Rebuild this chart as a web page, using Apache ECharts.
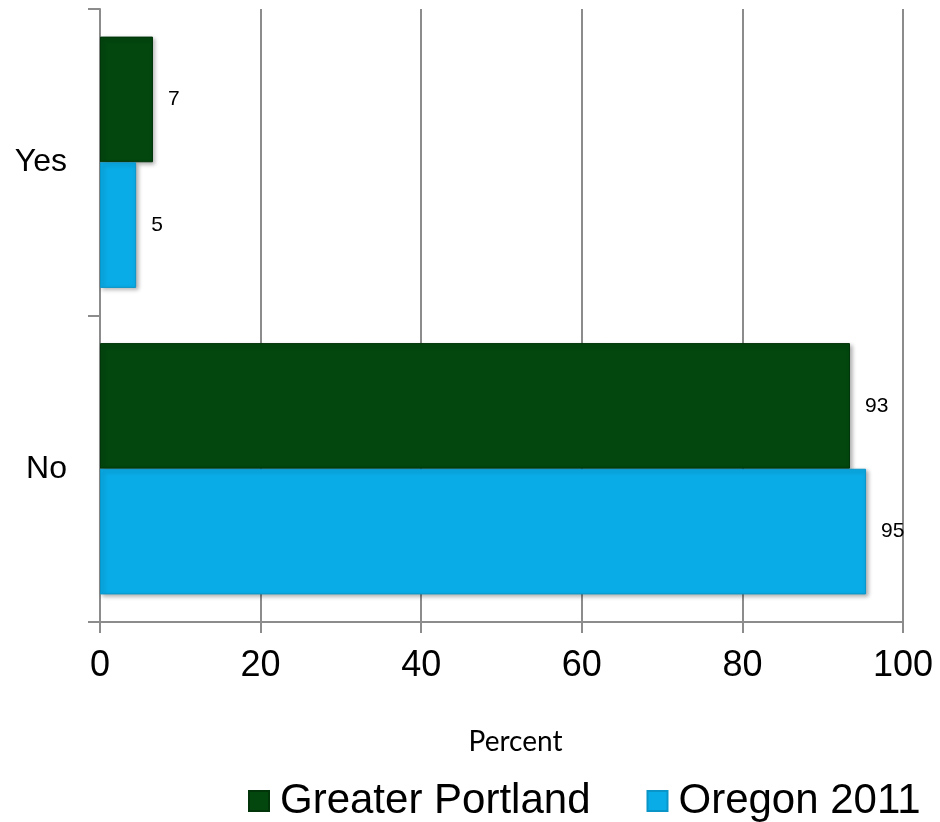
<!DOCTYPE html>
<html>
<head>
<meta charset="utf-8">
<title>Greater Portland vs Oregon 2011</title>
<script src="https://cdn.jsdelivr.net/npm/echarts@6/dist/echarts.min.js"></script>
<style>
    html, body { margin: 0; padding: 0; background: #fff; }
    #chart { width: 940px; height: 822px; }
</style>
</head>
<body>
<div id="chart"></div>
<script>
// Categories, top to bottom
const categories = ['Yes', 'No'];

// Percent values
const greaterPortland = [6.6, 93.4];
const oregon2011 = [4.5, 95.4];

const xTicks = [0, 20, 40, 60, 80, 100];

const GREEN = '#03460e';
const BLUE = '#0aace7';
const FONT = '"Liberation Sans", Arial, sans-serif';

const chart = echarts.init(document.getElementById('chart'));

// Shared label style for the value labels at the bar ends
const valueLabel = {
    show: true,
    position: 'right',
    distance: 15,
    color: '#000',
    fontFamily: FONT,
    fontSize: 21,
    formatter: (p) => Math.round(p.value),
};

chart.setOption({
    animation: false,
    backgroundColor: '#fff',
    grid: { left: 100, right: 37, top: 9, bottom: 200 },
    legend: {
        left: 243,
        top: 775,
        itemWidth: 20,
        itemHeight: 20,
        itemGap: 56,
        icon: 'rect',
        textStyle: { fontFamily: FONT, fontSize: 42, color: '#000', padding: [0, 0, 0, 6] },
        data: ['Greater Portland', 'Oregon 2011'],
    },
    xAxis: {
        type: 'value',
        min: xTicks[0],
        max: xTicks[xTicks.length - 1],
        interval: 20,
        name: 'Percent',
        nameLocation: 'middle',
        nameGap: 106,
        nameTextStyle: {
            fontFamily: 'Lato, "Open Sans", sans-serif',
            fontSize: 28,
            color: '#000',
            padding: [0, 0, 0, 28],
        },
        axisLine: { show: true, lineStyle: { color: '#8c8c8c', width: 2 } },
        axisTick: { show: true, length: 11, lineStyle: { color: '#8c8c8c', width: 2 } },
        axisLabel: { fontFamily: FONT, fontSize: 36, color: '#000', margin: 26 },
        splitLine: { show: true, lineStyle: { color: '#8c8c8c', width: 2 } },
    },
    yAxis: {
        type: 'category',
        data: categories,
        inverse: true,
        axisLine: { show: true, lineStyle: { color: '#8c8c8c', width: 2 } },
        axisTick: { show: true, length: 12, lineStyle: { color: '#8c8c8c', width: 2 } },
        axisLabel: { fontFamily: FONT, fontSize: 32, color: '#000', margin: 33 },
    },
    series: [
        {
            name: 'Greater Portland',
            type: 'bar',
            data: greaterPortland,
            barGap: '0%',
            barCategoryGap: '18%',
            itemStyle: {
                color: GREEN,
                borderColor: '#02350a',
                borderWidth: 1,
                shadowColor: 'rgba(0,0,0,0.3)',
                shadowBlur: 4,
                shadowOffsetX: 2,
                shadowOffsetY: 2,
            },
            label: valueLabel,
        },
        {
            name: 'Oregon 2011',
            type: 'bar',
            data: oregon2011,
            barGap: '0%',
            barCategoryGap: '18%',
            itemStyle: {
                color: BLUE,
                borderColor: '#0a95c9',
                borderWidth: 1,
                shadowColor: 'rgba(0,0,0,0.3)',
                shadowBlur: 4,
                shadowOffsetX: 2,
                shadowOffsetY: 2,
            },
            label: valueLabel,
        },
    ],
});
</script>
</body>
</html>
